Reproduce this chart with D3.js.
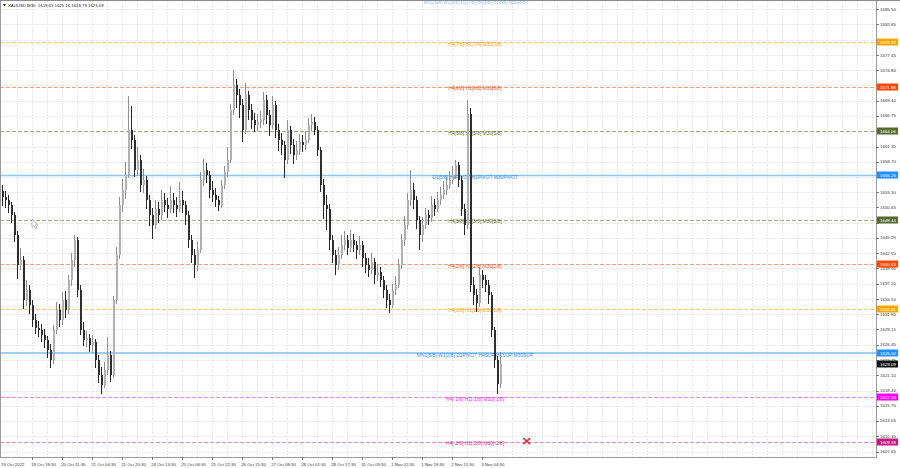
<!DOCTYPE html>
<html><head><meta charset="utf-8">
<script src="https://cdn.jsdelivr.net/npm/d3@7/dist/d3.min.js"></script>
<style>body{margin:0;background:#fff;overflow:hidden}svg{display:block}text{font-family:"Liberation Sans",Arial,sans-serif}</style>
</head><body><svg id="c" width="900" height="468"></svg>
<script>
// ---------- DATA ----------
const symbolTitle = "XAUUSD,M30  1619.63 1625.16 1618.79 1623.09";
const firstOpen = 1653.5;
const closes = [
1652.5,1651.9,1651.0,1649.3,1645.8,1640.5,1641.4,1634.3,1636.1,1633.5,
1630.8,1629.4,1629.0,1628.2,1627.3,1625.5,1623.8,1629.0,1632.6,1630.8,
1634.3,1632.6,1637.9,1641.4,1644.9,1636.1,1629.0,1627.3,1627.6,1626.4,
1626.9,1623.8,1621.1,1619.4,1622.0,1624.6,1621.1,1634.3,1642.3,1651.0,
1653.7,1656.4,1664.3,1662.5,1657.2,1659.0,1654.6,1655.5,1651.9,1649.3,
1647.6,1650.4,1649.3,1651.9,1651.0,1650.4,1651.9,1651.0,1650.4,1651.9,
1651.0,1649.3,1644.9,1642.3,1640.5,1643.1,1655.5,1657.2,1656.4,1653.7,
1652.8,1651.9,1651.0,1654.6,1656.9,1659.0,1667.8,1672.2,1670.4,1668.7,
1664.3,1670.4,1667.8,1666.0,1665.2,1665.6,1666.0,1669.6,1666.9,1665.2,
1668.7,1664.3,1662.5,1661.6,1659.0,1664.3,1661.6,1659.9,1660.7,1662.1,
1661.6,1662.5,1665.2,1665.6,1664.3,1660.7,1654.6,1651.0,1650.4,1644.9,
1642.3,1640.5,1642.3,1644.0,1644.9,1643.5,1644.9,1644.0,1643.1,1644.0,
1641.7,1640.5,1639.6,1641.0,1638.7,1639.2,1637.9,1636.1,1634.3,1633.5,
1636.1,1637.0,1640.5,1644.9,1647.6,1651.9,1653.7,1651.9,1648.4,1645.8,
1647.6,1649.3,1648.8,1651.0,1650.4,1651.9,1652.8,1653.7,1654.6,1655.5,
1656.4,1658.1,1655.5,1650.4,1647.6,1667.0,1637.0,1635.2,1633.8,1638.7,
1637.9,1637.0,1635.2,1629.0,1623.8,1619.63,1623.09];
const highs = [
1654.5,1653.6,1652.8,1651.6,1649.8,1646.4,1643.5,1642.0,1637.9,1637.0,
1634.4,1631.9,1630.6,1630.1,1629.2,1628.0,1626.6,1629.9,1634.0,1633.7,
1635.8,1636.0,1638.8,1642.6,1645.8,1645.4,1637.0,1630.4,1628.9,1628.4,
1628.2,1627.5,1624.7,1622.6,1623.4,1627.8,1625.4,1635.0,1643.6,1652.4,
1655.6,1658.6,1670.2,1668.4,1663.4,1661.3,1659.8,1657.4,1656.2,1652.9,
1650.5,1652.0,1651.6,1653.7,1653.2,1652.3,1654.4,1653.1,1652.4,1655.1,
1653.6,1651.8,1650.0,1645.7,1643.3,1644.6,1656.8,1659.1,1658.4,1657.0,
1655.2,1654.0,1652.6,1655.5,1658.0,1661.2,1668.9,1674.8,1673.3,1671.5,
1669.7,1672.6,1671.2,1668.9,1667.3,1667.1,1667.6,1671.0,1670.4,1667.8,
1670.2,1669.3,1665.4,1663.8,1662.4,1666.1,1665.0,1662.6,1662.3,1663.5,
1663.4,1664.0,1666.3,1667.0,1666.6,1665.0,1661.3,1655.7,1652.9,1651.2,
1645.8,1643.1,1643.6,1645.7,1646.4,1645.8,1646.6,1645.9,1644.8,1645.6,
1644.7,1642.6,1641.8,1642.6,1641.7,1640.6,1640.1,1638.6,1637.0,1635.4,
1637.2,1638.5,1641.6,1646.0,1649.2,1653.1,1657.2,1655.0,1652.6,1649.1,
1648.9,1650.6,1650.2,1652.6,1652.1,1653.4,1654.3,1655.2,1656.0,1657.1,
1657.9,1659.0,1658.7,1656.1,1651.2,1669.6,1668.1,1638.4,1636.3,1640.1,
1639.6,1638.8,1637.8,1635.8,1629.6,1624.5,1625.16];
const lows = [
1650.8,1650.6,1649.6,1647.9,1644.6,1638.0,1639.6,1632.8,1633.2,1631.9,
1629.6,1628.4,1627.9,1627.0,1625.9,1624.2,1622.3,1623.1,1628.4,1629.5,
1629.9,1631.2,1631.9,1636.8,1640.2,1634.9,1628.1,1626.2,1626.0,1625.1,
1625.0,1622.4,1619.8,1617.8,1618.9,1621.2,1619.9,1620.6,1633.6,1641.5,
1649.9,1652.2,1655.8,1660.9,1655.9,1656.1,1653.3,1653.2,1650.4,1647.3,
1645.1,1646.9,1647.9,1648.5,1649.9,1648.8,1649.6,1649.7,1648.9,1649.8,
1649.6,1647.6,1643.4,1640.8,1638.2,1639.5,1642.6,1654.4,1654.9,1652.3,
1651.6,1650.7,1650.0,1650.5,1653.9,1656.0,1658.5,1666.9,1668.2,1666.4,
1662.1,1663.6,1666.1,1664.4,1663.9,1664.1,1664.6,1665.2,1665.3,1663.2,
1664.5,1662.8,1660.6,1659.9,1655.8,1658.3,1660.0,1658.3,1658.9,1659.8,
1660.3,1660.8,1661.9,1664.1,1663.3,1659.6,1653.4,1648.6,1646.6,1643.2,
1640.8,1638.8,1639.7,1641.6,1643.1,1642.3,1642.8,1642.7,1641.6,1642.2,
1640.2,1639.1,1638.4,1638.9,1637.2,1637.6,1636.6,1634.7,1633.0,1632.1,
1632.9,1635.2,1636.4,1639.8,1643.9,1646.8,1650.8,1650.3,1646.9,1643.1,
1644.6,1646.8,1647.5,1648.1,1649.1,1649.8,1651.0,1652.1,1652.9,1653.8,
1654.7,1655.6,1654.2,1649.1,1645.8,1646.9,1635.8,1633.4,1632.3,1633.1,
1636.5,1635.8,1633.7,1627.9,1622.4,1617.8,1618.79];
const timeLabels = ["19 Oct 2022","19 Oct 18:30","20 Oct 11:30","21 Oct 04:30","21 Oct 20:30",
"24 Oct 13:30","25 Oct 06:30","25 Oct 22:30","26 Oct 15:30","27 Oct 08:30","28 Oct 01:30",
"28 Oct 17:30","31 Oct 09:30","1 Nov 02:30","1 Nov 18:30","2 Nov 11:30","3 Nov 04:30"];
const barsPerLabel = 10;
const priceTicks = ["1685.50","1682.85","1680.15","1677.45","1674.80","1672.10","1669.40","1666.75",
"1664.05","1661.35","1658.70","1656.00","1653.30","1650.65","1647.95","1645.25","1642.55","1639.90",
"1637.20","1634.50","1631.80","1629.15","1626.45","1623.75","1621.10","1618.40","1615.70","1613.05",
"1610.35","1607.65"];
const levelPrices = [1679.69,1671.88,1664.06,1656.25,1648.44,1640.63,1632.81,1625.00,1617.19,1609.38];
const levelTexts = ["H4[7/8] H1[7/8] M30[7/8]","H4[6/8] H1[6/8] M30[6/8]","H4[5/8] H1[5/8] M30[5/8]",
"D1[5/8] H4PIVOT H1PIVOT M30PIVOT","H4[3/8] H1[3/8] M30[3/8]","H4[2/8] H1[2/8] M30[2/8]",
"H4[1/8] H1[1/8] M30[1/8]","MN1[5/8] W1[2/8] D1PIVOT H4SUP H1SUP M30SUP",
"H4[-1/8] H1[-1/8] M30[-1/8]","H4[-2/8] H1[-2/8] M30[-2/8]"];
const topLevelText = "MN1[6/8] W1[3/8] D1[7/8] H4[8/8] H1[8/8] M30[8/8]";
const lastPrice = 1623.09;
const signalIndex = 175, signalPrice = 1609.5;

// ---------- STYLES ----------
const levelLineColors = ["#ffc86e","#f79a78","#a9ab80","#8ec6f7","#a9ab80","#f79a78","#ffc86e","#7dbcf6","#f27ef2","#e68abc"];
const levelTextColors = ["#f59a00","#f04a10","#5f6e2c","#1e8ef0","#5f6e2c","#f04a10","#f59a00","#1e8ef0","#f020f0","#d0308a"];
const levelBoxColors = ["#ffa500","#ff4500","#556b2f","#1e90ff","#556b2f","#ff4500","#ffa500","#1e90ff","#ff00ff","#c71585"];
const levelSolid = [false,false,false,true,false,false,false,true,false,false];

// ---------- CHART ----------
const svg = d3.select("#c");
const W = 876, H = 457;
const x = d3.scaleLinear().domain([0, 166]).range([1.7, 499.7]);
const y = d3.scaleLinear().domain([1606.70, 1687.14]).range([H, 0]);

svg.append("rect").attr("width",900).attr("height",468).attr("fill","#fff");

const plot = svg.append("g");
svg.append("clipPath").attr("id","pc").append("rect").attr("x",0).attr("y",0).attr("width",W).attr("height",H);

// grid
const gGrid = plot.append("g").attr("stroke","#e9e9e9").attr("stroke-width",1).attr("shape-rendering","crispEdges");
const vIdx = d3.range(5, 295, 5).filter(i => x(i) < W);
gGrid.selectAll("line.v").data(vIdx).join("line").attr("class","v")
  .attr("x1", d => Math.round(x(d))+0.5).attr("x2", d => Math.round(x(d))+0.5)
  .attr("y1", 0).attr("y2", H).attr("stroke-dasharray","2,1");
gGrid.selectAll("line.h").data(priceTicks).join("line").attr("class","h")
  .attr("x1", 0).attr("x2", W)
  .attr("y1", d => Math.round(y(+d))+0.5).attr("y2", d => Math.round(y(+d))+0.5).attr("stroke-dasharray","2,1");

// level lines
const gLev = plot.append("g").attr("clip-path","url(#pc)");
gLev.selectAll("line").data(levelPrices).join("line")
  .attr("x1",0).attr("x2",W)
  .attr("y1", (d,i) => levelSolid[i] ? y(d) : Math.round(y(d))+0.5)
  .attr("y2", (d,i) => levelSolid[i] ? y(d) : Math.round(y(d))+0.5)
  .attr("stroke",(d,i)=>levelLineColors[i])
  .attr("stroke-width",(d,i)=>levelSolid[i]?1.4:1)
  .attr("stroke-dasharray",(d,i)=>levelSolid[i]?null:"4,2");
gLev.selectAll("text").data(levelPrices).join("text")
  .attr("x", 475).attr("y", d => y(d)+2)
  .attr("text-anchor","middle").attr("dominant-baseline","central")
  .attr("font-size",4.9).attr("fill",(d,i)=>levelTextColors[i])
  .text((d,i)=>levelTexts[i]);
gLev.append("text").attr("x",475).attr("y",2.6).attr("text-anchor","middle").attr("dominant-baseline","central")
  .attr("font-size",4.6).attr("fill","#1e8ef0").attr("fill-opacity",0.6).text(topLevelText);

// candles
const candles = closes.map((c,i)=>({i, o: i===0?firstOpen:closes[i-1], h: highs[i], l: lows[i], c}));
const gC = plot.append("g").attr("clip-path","url(#pc)").attr("shape-rendering","crispEdges");
const cg = gC.selectAll("g").data(candles).join("g");
cg.append("line")
  .attr("x1", d => Math.round(x(d.i))+0.5).attr("x2", d => Math.round(x(d.i))+0.5)
  .attr("y1", d => y(d.h)).attr("y2", d => y(d.l))
  .attr("stroke", d => d.c>=d.o ? "#8e8e8e" : "#262626").attr("stroke-width",1);
cg.append("rect")
  .attr("x", d => Math.round(x(d.i))-0.5).attr("width",2)
  .attr("y", d => y(Math.max(d.o,d.c)))
  .attr("height", d => Math.max(1, Math.abs(y(d.o)-y(d.c))))
  .attr("fill", d => d.c>=d.o ? "#b0b0b0" : "#2e2e2e");

// signal cross
const sx = x(signalIndex), sy = y(signalPrice);
plot.append("path").attr("d",`M${sx-3.5},${sy-3}L${sx+3.5},${sy+3}M${sx+3.5},${sy-3}L${sx-3.5},${sy+3}`)
  .attr("stroke","#e8323c").attr("stroke-width",1.8).attr("fill","none");

// mouse cursor (screen capture artefact)
plot.append("path").attr("d","M32,219L32,227.5L34,225.6L35.6,228.6L36.8,228L35.3,225L38,225Z")
  .attr("fill","#fff").attr("stroke","#8a8a8a").attr("stroke-width",0.6);

// frame
svg.append("path").attr("d",`M0.5,${H+0.5}V0.5H${W+0.5}V${H+0.5}H0.5`)
  .attr("fill","none").attr("stroke","#9a9a9a").attr("stroke-width",1).attr("shape-rendering","crispEdges");
svg.append("line").attr("x1",0).attr("x2",900).attr("y1",0.5).attr("y2",0.5).attr("stroke","#8a8a8a").attr("shape-rendering","crispEdges");

// level price boxes (data)
const boxes = levelPrices.map((p,i)=>({p, col: levelBoxColors[i], t: p.toFixed(2)}));
boxes.push({p: lastPrice, col:"#111", t: lastPrice.toFixed(2)});

// right price axis (labels hidden behind a price box are not drawn)
const visibleTicks = priceTicks.filter(t => !boxes.some(b => Math.abs(y(+t)-y(b.p)) < 3.2));
const gY = svg.append("g");
gY.selectAll("line").data(priceTicks).join("line")
  .attr("x1",W).attr("x2",W+3).attr("y1",d=>Math.round(y(+d))+0.5).attr("y2",d=>Math.round(y(+d))+0.5)
  .attr("stroke","#777").attr("shape-rendering","crispEdges");
gY.selectAll("text").data(visibleTicks).join("text")
  .attr("x",W+4).attr("y",d=>y(+d)).attr("dominant-baseline","central")
  .attr("font-size",4.4).attr("fill","#333").text(d=>d);

const gB = svg.append("g");
gB.selectAll("rect").data(boxes).join("rect")
  .attr("x",W+1).attr("width",21).attr("y",d=>Math.round(y(d.p))-3.5).attr("height",7)
  .attr("fill",d=>d.col);
gB.selectAll("text").data(boxes).join("text")
  .attr("x",W+4).attr("y",d=>Math.round(y(d.p))).attr("dominant-baseline","central")
  .attr("font-size",4.4).attr("fill","#fff").text(d=>d.t);

// bottom time axis
const gX = svg.append("g");
const tIdx = timeLabels.map((t,k)=>k*barsPerLabel);
gX.selectAll("line").data(tIdx.slice(1)).join("line")
  .attr("x1",d=>Math.round(x(d))+0.5).attr("x2",d=>Math.round(x(d))+0.5).attr("y1",H).attr("y2",H+3)
  .attr("stroke","#777").attr("shape-rendering","crispEdges");
gX.selectAll("text").data(timeLabels).join("text")
  .attr("x",(d,k)=> k===0 ? 1 : x(tIdx[k])-0.5).attr("y",H+7)
  .attr("dominant-baseline","central").attr("font-size",4.3).attr("fill","#333").text(d=>d);

// header
svg.append("path").attr("d","M3,4L6,4L4.5,6.5Z").attr("fill","#222");
svg.append("text").attr("x",8).attr("y",5.2).attr("dominant-baseline","central")
  .attr("font-size",4.3).attr("fill","#222").attr("xml:space","preserve").text(symbolTitle);
</script></body></html>
